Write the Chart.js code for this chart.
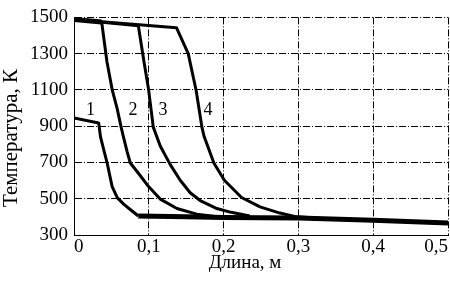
<!DOCTYPE html>
<html>
<head>
<meta charset="utf-8">
<script src="https://cdn.jsdelivr.net/npm/chart.js@4.4.0/dist/chart.umd.min.js"></script>
<style>
    html, body { margin: 0; padding: 0; background: #fff; }
</style>
</head>
<body>
<canvas id="chart" width="450" height="288"></canvas>
<script>
// Curve data (x in m, y in K)
const curve1X = [0, 0.033, 0.0355, 0.0443, 0.051, 0.058, 0.0664, 0.076, 0.086, 0.15, 0.2, 0.3, 0.4, 0.5];
const curve1Y = [945, 918, 840, 697, 567, 505, 470, 438, 405, 400, 396, 394, 382, 366];

const curve2X = [0, 0.037, 0.044, 0.051, 0.0576, 0.063, 0.066, 0.071, 0.0753, 0.0887, 0.0997, 0.1153, 0.1376, 0.164, 0.195, 0.225];
const curve2Y = [1488, 1475, 1257, 1102, 998, 895, 843, 760, 697, 627, 567, 498, 446, 415, 400, 396];

const curve3X = [0, 0.086, 0.0935, 0.0997, 0.106, 0.1153, 0.1287, 0.142, 0.1553, 0.1687, 0.191, 0.21, 0.235];
const curve3Y = [1488, 1454, 1257, 1102, 895, 791, 688, 602, 533, 490, 446, 425, 405];

const curve4X = [0, 0.137, 0.1527, 0.1633, 0.171, 0.174, 0.187, 0.201, 0.224, 0.2487, 0.2753, 0.2976, 0.33];
const curve4Y = [1488, 1443, 1300, 1097, 895, 843, 697, 602, 507, 455, 421, 400, 393];

// Curve numbers and where they sit
const curveNames = ['1', '2', '3', '4'];
const nameX = [0.022, 0.079, 0.119, 0.179];
const nameY = [990, 990, 990, 990];

const X_MIN = 0, X_MAX = 0.5, X_STEP = 0.1;
const Y_MIN = 300, Y_MAX = 1500, Y_STEP = 200;

const X_TITLE = 'Длина, м';
const Y_TITLE = 'Температура, К';

const FONT = "'Liberation Serif', 'DejaVu Serif', serif";

function toPoints(xs, ys) {
    return xs.map((x, i) => ({ x: x, y: ys[i] }));
}

function curve(xs, ys, thick) {
    return {
        data: toPoints(xs, ys),
        borderColor: '#000',
        borderWidth: 3,
        pointRadius: 0,
        tension: 0,
        fill: false,
        borderJoinStyle: 'round',
        segment: { borderWidth: thick }
    };
}

// the first stretch is shared by curves 2-4, the tail of curve 1 by all curves
const topThick = ctx => ctx.p1.parsed.x <= 0.04 ? 5 : 3;
const bottomThick = ctx => ctx.p0.parsed.x >= 0.085 ? 5 : 3;

// curve numbers plus the axis titles (the picture has them off-centre)
const chartTexts = {
    id: 'chartTexts',
    afterDraw(chart) {
        const { ctx, scales } = chart;
        ctx.save();
        ctx.fillStyle = '#000';
        ctx.textAlign = 'center';
        ctx.textBaseline = 'middle';
        ctx.font = '18px ' + FONT;
        curveNames.forEach((name, i) => {
            ctx.fillText(name, scales.x.getPixelForValue(nameX[i]), scales.y.getPixelForValue(nameY[i]));
        });
        ctx.font = '19px ' + FONT;
        ctx.fillText(X_TITLE, 245, 263);
        ctx.translate(11, 138);
        ctx.rotate(-Math.PI / 2);
        ctx.font = '21px ' + FONT;
        ctx.fillText(Y_TITLE, 0, 0);
        ctx.restore();
    }
};

const gridDash = [7, 2, 1, 2];

new Chart(document.getElementById('chart'), {
    type: 'line',
    data: {
        datasets: [
            curve(curve1X, curve1Y, bottomThick),
            curve(curve2X, curve2Y, topThick),
            curve(curve3X, curve3Y, topThick),
            curve(curve4X, curve4Y, topThick)
        ]
    },
    options: {
        responsive: false,
        animation: false,
        layout: { padding: { top: 3, right: 2, left: 0, bottom: 0 } },
        plugins: { legend: { display: false }, tooltip: { enabled: false } },
        scales: {
            x: {
                type: 'linear',
                min: X_MIN,
                max: X_MAX,
                afterFit: s => { s.height = 53; },
                ticks: {
                    stepSize: X_STEP,
                    align: 'inner',
                    color: '#000',
                    padding: 1,
                    font: { family: FONT, size: 19 },
                    callback: v => v === 0 ? '0' : v.toFixed(1).replace('.', ',')
                },
                grid: { color: '#000', lineWidth: 1, drawTicks: false },
                border: { color: '#000', width: 1, dash: gridDash }
            },
            y: {
                min: Y_MIN,
                max: Y_MAX,
                afterFit: s => { s.width = 74; },
                ticks: {
                    stepSize: Y_STEP,
                    color: '#000',
                    padding: 6,
                    font: { family: FONT, size: 19 },
                    callback: v => String(v)
                },
                grid: { color: '#000', lineWidth: 1, drawTicks: false },
                border: { color: '#000', width: 1, dash: gridDash }
            }
        }
    },
    plugins: [chartTexts]
});
</script>
</body>
</html>
